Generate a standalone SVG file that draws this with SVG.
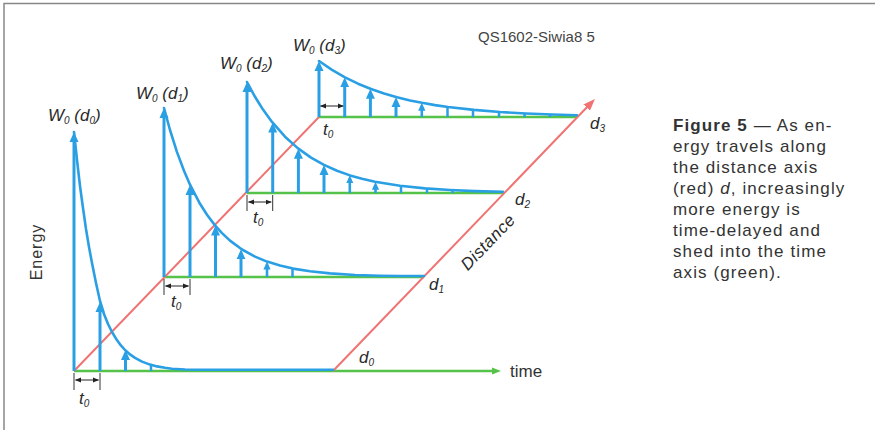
<svg xmlns="http://www.w3.org/2000/svg" width="875" height="430" viewBox="0 0 875 430">
<style>
.g{stroke:#55c24a;stroke-width:2.5;fill:none}
.r{stroke:#f07272;stroke-width:2;fill:none}
.c{stroke:#2b9fe4;stroke-width:2.6;fill:none;stroke-linejoin:round;stroke-linecap:round}
.a{stroke:#2b9fe4;stroke-width:3;marker-end:url(#bh)}
.as{stroke:#2b9fe4;stroke-width:2.6;marker-end:url(#bhs)}
.tk{stroke:#2b9fe4;stroke-width:2.5}
.br{stroke:#222;stroke-width:1;marker-start:url(#ba);marker-end:url(#ba)}
.bt{stroke:#333;stroke-width:1}
.lbl{font-family:"Liberation Sans",Arial,sans-serif;font-style:italic;fill:#2a2a2a;font-size:17px}
.sub{font-size:10px}
.cap{font-family:"Liberation Sans",Arial,sans-serif;fill:#333;font-size:17px;letter-spacing:1.1px}
</style>
<defs>
<marker id="bh" viewBox="0 -5 10 10" refX="6" refY="0" markerWidth="10" markerHeight="10" markerUnits="userSpaceOnUse" orient="auto"><path d="M0,-4.5 L10,0 L0,4.5 z" fill="#2b9fe4"/></marker>
<marker id="bhs" viewBox="0 -5 10 10" refX="6" refY="0" markerWidth="8" markerHeight="8" markerUnits="userSpaceOnUse" orient="auto"><path d="M0,-4.5 L10,0 L0,4.5 z" fill="#2b9fe4"/></marker>
<marker id="ba" viewBox="0 -3 6 6" refX="5.5" refY="0" markerWidth="6" markerHeight="6" markerUnits="userSpaceOnUse" orient="auto-start-reverse"><path d="M0,-2.5 L6,0 L0,2.5 z" fill="#222"/></marker>
<marker id="ra" viewBox="0 -5 12 10" refX="6.3" refY="0" markerWidth="12" markerHeight="10" markerUnits="userSpaceOnUse" orient="auto"><path d="M0,-4.5 L12,0 L0,4.5 z" fill="#f07272"/></marker>
<marker id="ga" viewBox="0 -4 9 8" refX="4" refY="0" markerWidth="9" markerHeight="8" markerUnits="userSpaceOnUse" orient="auto"><path d="M0,-3.5 L9,0 L0,3.5 z" fill="#55c24a"/></marker>
</defs>
<rect width="875" height="430" fill="#fff"/>
<path d="M4,430 L4,3.5 L875,3.5" fill="none" stroke="#888" stroke-width="1.5"/>

<g id="axes">
<line class="g" x1="74" y1="371" x2="496" y2="371" marker-end="url(#ga)"/>
<line class="g" x1="164" y1="277" x2="424" y2="277"/>
<line class="g" x1="247" y1="193" x2="503" y2="193"/>
<line class="g" x1="319" y1="117" x2="577" y2="117"/>
<line class="r" x1="74" y1="371" x2="319" y2="117"/>
<line class="r" x1="333" y1="371" x2="591" y2="103" marker-end="url(#ra)"/>
</g>

<g id="set-d0">
<path class="c" d="M74,132 L77,160 L80,186 L83,208 L86,229 L89,247 L92,263 L96,283 L100,301 L104,314 L108,324 L112,332 L116,338.7 L120,344.3 L125,350 L130,354.4 L135,357.9 L142,361.6 L150,364.6 L157,366.4 L165,367.8 L172,368.8 L185,369.5 L200,369.8 L333,369.8"/>
<line class="a" x1="74" y1="371" x2="74" y2="136"/>
<line class="a" x1="100" y1="371" x2="100" y2="306"/>
<line class="a" x1="125.5" y1="371" x2="125.5" y2="354"/>
<line class="tk" x1="151" y1="371" x2="151" y2="364.5"/>
</g>

<g id="set-d1">
<path class="c" d="M164,108 L170,130 L177,152.1 L184,170.8 L190,184.7 L200,203.8 L207,214.8 L215,225.4 L222,233.1 L230,240.6 L242,249.5 L255,256.6 L267,261.6 L280,265.6 L293,268.6 L310,271.3 L330,273.4 L355,275 L380,275.8 L400,276 L424,276"/>
<line class="a" x1="164" y1="277" x2="164" y2="112"/>
<line class="a" x1="190" y1="277" x2="190" y2="189"/>
<line class="a" x1="215.5" y1="277" x2="215.5" y2="229.5"/>
<line class="a" x1="241" y1="277" x2="241" y2="253.3"/>
<line class="as" x1="267" y1="277" x2="267" y2="264.7"/>
<line class="tk" x1="292.5" y1="277" x2="292.5" y2="268.6"/>
</g>

<g id="set-d2">
<path class="c" d="M247,82 L255,96.8 L263,109.6 L272,121.9 L285,136.7 L298,148.4 L311,157.6 L324,164.9 L337,170.7 L350,175.4 L362,178.8 L375,181.7 L400,185.8 L425,188.4 L450,190 L475,191.1 L503,191.8"/>
<line class="a" x1="247" y1="193" x2="247" y2="86"/>
<line class="a" x1="272.7" y1="193" x2="272.7" y2="126.5"/>
<line class="a" x1="298.4" y1="193" x2="298.4" y2="152.7"/>
<line class="a" x1="324" y1="193" x2="324" y2="168.9"/>
<line class="as" x1="349.8" y1="193" x2="349.8" y2="178.5"/>
<line class="as" x1="375.5" y1="193" x2="375.5" y2="185"/>
<line class="tk" x1="401" y1="193" x2="401" y2="185.9"/>
<line class="tk" x1="427" y1="193" x2="427" y2="188.4"/>
<line class="tk" x1="452.6" y1="193" x2="452.6" y2="190"/>
</g>

<g id="set-d3">
<path class="c" d="M319,61 L332,69.9 L345,77.4 L358,83.7 L371,89 L384,93.5 L397,97.2 L410,100.4 L422,102.8 L435,105.1 L448,107 L474,109.9 L500,112 L526,113.5 L552,114.5 L577,115.2"/>
<line class="a" x1="319" y1="117" x2="319" y2="65"/>
<line class="a" x1="344.7" y1="117" x2="344.7" y2="81.3"/>
<line class="a" x1="370.4" y1="117" x2="370.4" y2="92.8"/>
<line class="a" x1="396" y1="117" x2="396" y2="101"/>
<line class="as" x1="421.8" y1="117" x2="421.8" y2="105.9"/>
<line class="tk" x1="447.5" y1="117" x2="447.5" y2="107"/>
<line class="tk" x1="473" y1="117" x2="473" y2="110"/>
<line class="tk" x1="499" y1="117" x2="499" y2="112"/>
<line class="tk" x1="524.6" y1="117" x2="524.6" y2="113.5"/>
<line class="tk" x1="550" y1="117" x2="550" y2="114.5"/>
</g>

<g id="brackets">
<line class="bt" x1="74" y1="373" x2="74" y2="390"/>
<line class="bt" x1="100" y1="373" x2="100" y2="390"/>
<line class="br" x1="75.5" y1="380" x2="98.5" y2="380"/>
<line class="bt" x1="164" y1="279" x2="164" y2="295"/>
<line class="bt" x1="190" y1="279" x2="190" y2="295"/>
<line class="br" x1="165.5" y1="286" x2="188.5" y2="286"/>
<line class="bt" x1="247" y1="195" x2="247" y2="211"/>
<line class="bt" x1="272.7" y1="195" x2="272.7" y2="211"/>
<line class="br" x1="248.5" y1="202" x2="271.2" y2="202"/>
<line class="br" x1="320.5" y1="106" x2="343.2" y2="106"/>
</g>

<g id="labels">
<text class="lbl" x="48" y="121">W<tspan class="sub" dy="3">0</tspan><tspan dy="-3"> (d</tspan><tspan class="sub" dy="3">0</tspan><tspan dy="-3">)</tspan></text>
<text class="lbl" x="136" y="99">W<tspan class="sub" dy="3">0</tspan><tspan dy="-3"> (d</tspan><tspan class="sub" dy="3">1</tspan><tspan dy="-3">)</tspan></text>
<text class="lbl" x="220" y="69">W<tspan class="sub" dy="3">0</tspan><tspan dy="-3"> (d</tspan><tspan class="sub" dy="3">2</tspan><tspan dy="-3">)</tspan></text>
<text class="lbl" x="293" y="51">W<tspan class="sub" dy="3">0</tspan><tspan dy="-3"> (d</tspan><tspan class="sub" dy="3">3</tspan><tspan dy="-3">)</tspan></text>
<text class="lbl" x="79" y="404">t<tspan class="sub" dy="3">0</tspan></text>
<text class="lbl" x="171" y="307">t<tspan class="sub" dy="3">0</tspan></text>
<text class="lbl" x="253" y="223">t<tspan class="sub" dy="3">0</tspan></text>
<text class="lbl" x="323" y="135">t<tspan class="sub" dy="3">0</tspan></text>
<text class="lbl" x="359" y="363">d<tspan class="sub" dy="3">0</tspan></text>
<text class="lbl" x="429" y="290">d<tspan class="sub" dy="3">1</tspan></text>
<text class="lbl" x="515" y="205">d<tspan class="sub" dy="3">2</tspan></text>
<text class="lbl" x="590" y="129">d<tspan class="sub" dy="3">3</tspan></text>
<text class="lbl" font-size="16" letter-spacing="0.5" text-anchor="middle" transform="translate(492,246) rotate(-46)">Distance</text>
<text font-family="Liberation Sans, Arial, sans-serif" font-size="17" fill="#333" x="510" y="377">time</text>
<text font-family="Liberation Sans, Arial, sans-serif" font-size="16" letter-spacing="1" fill="#333" text-anchor="middle" transform="translate(42,252) rotate(-90)">Energy</text>
<text font-family="Liberation Sans, Arial, sans-serif" font-size="15" fill="#444" x="478" y="42">QS1602-Siwia8 5</text>
</g>

<g id="caption" class="cap">
<text x="673" y="131"><tspan font-weight="bold">Figure 5</tspan> — As en-</text>
<text x="673" y="152">ergy travels along</text>
<text x="673" y="173">the distance axis</text>
<text x="673" y="194">(red) <tspan font-style="italic">d</tspan>, increasingly</text>
<text x="673" y="215">more energy is</text>
<text x="673" y="236">time-delayed and</text>
<text x="673" y="257">shed into the time</text>
<text x="673" y="278">axis (green).</text>
</g>
</svg>
